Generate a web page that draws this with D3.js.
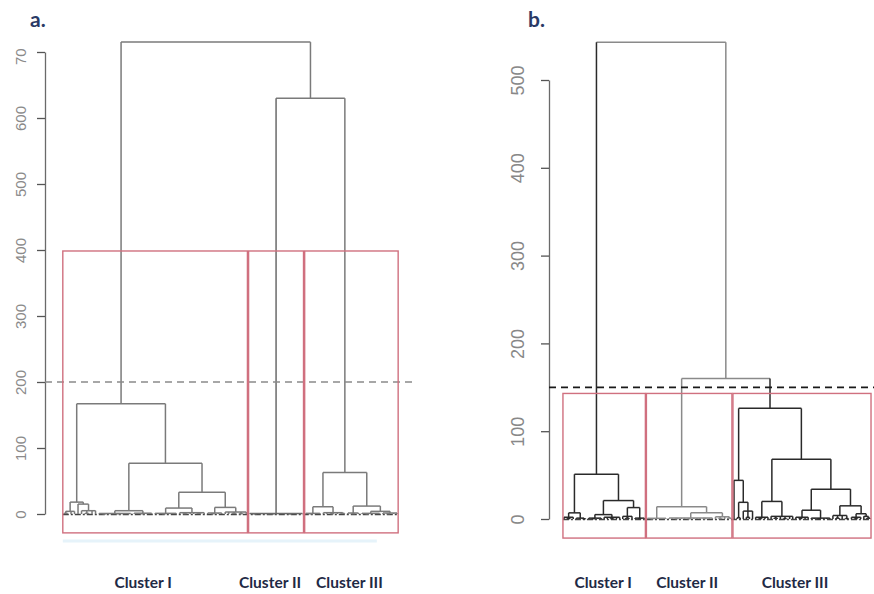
<!DOCTYPE html>
<html><head><meta charset="utf-8">
<script src="https://cdn.jsdelivr.net/npm/d3@7"></script>
<style>body{margin:0;background:#fff}</style>
</head><body>
<svg id="c" width="874" height="594"></svg>
<script>
// ---------------- DATA ----------------
const panelLabels = ["a.", "b."];
const clusterNames = ["Cluster I", "Cluster II", "Cluster III"];
const ticksA = [0, 100, 200, 300, 400, 500, 600, 700];
const ticksB = [0, 100, 200, 300, 400, 500];
const cutLineA = 200;
const cutLineB = 150;
const kClusters = 3;

// Dendrogram nodes: [mergeHeight, child, child, ...]; 0 = a single leaf
// ---- panel a ----
const a_B1  = [4, [1, 0, 0], 0, 0];
const a_B2  = [15, 0, [5, 0, [1, 0, 0], 0, 0]];
const a_C1  = [5, [0.8, 0, [0.3, 0, 0], 0, 0, [0.5, 0, 0], 0, 0, 0], [1.2, 0, 0, [0.4, 0, 0], 0, 0]];
const a_C2a = [9, [1, 0, 0, [0.4, 0, 0], 0, 0, 0], [2, 0, [0.6, 0, 0], 0, 0, [1, 0, 0], 0]];
const a_C2b = [10, [1.5, 0, [0.5, 0, 0], 0, 0], [3, 0, 0, [1, 0, 0], [0.5, 0, 0], 0]];
const a_D   = [0.6, 0, [0.2, 0, 0], 0, 0, [0.3, 0, 0, 0], 0, 0, 0, [0.2, 0, 0], 0, 0, 0];
const a_F1  = [11, [1, 0, [0.4, 0, 0], 0, 0], [2, 0, 0, [0.5, 0, 0], 0, [1, 0, 0]]];
const a_F2  = [12, [1.5, 0, [0.5, 0, 0], 0], [4, [1, 0, [0.3, 0, 0], 0, 0, 0], [1.5, 0, [0.5, 0, 0], 0, 0]]];
const treeA = [715,
  [167, [18, a_B1, a_B2], [77, a_C1, [33, a_C2a, a_C2b]]],
  [630, a_D, [63, a_F1, a_F2]]
];
// ---- panel b ----
const b_IL   = [7, [2, 0, [0.5, 0, 0], 0], [1, 0, 0, [0.3, 0, 0]]];
const b_IRa  = [5, [1, 0, [0.4, 0, 0], 0, 0], [2, 0, 0, [0.5, 0, 0], 0, 0]];
const b_IRb  = [13, [3, 0, [1, 0, 0], 0], [1, 0, [0.4, 0, 0], 0]];
const b_IIL  = [0.8, 0, [0.3, 0, 0], 0, 0, 0, 0];
const b_IIR  = [7, [1.2, 0, 0, [0.4, 0, 0], 0, 0, [0.3, 0, 0], 0, 0, 0, [0.5, 0, 0], 0, 0], [2.5, 0, [0.6, 0, 0], 0, [1, 0, 0]]];
const b_H1   = [44, 0, [19, [1.5, 0, 0], [9, 0, [2, 0, 0], 0]]];
const b_H2a  = [20, [2, 0, [0.5, 0, 0], 0, 0], [3, 0, [1, 0, 0], 0, [0.4, 0, 0], 0, 0]];
const b_H2b1 = [10, [2, 0, [0.6, 0, 0], 0, 0], [1, 0, 0, [0.3, 0, 0], 0, 0, 0]];
const b_H2b2 = [15, [4, 0, [1, 0, 0], 0, [0.5, 0, 0]], [6, [2, 0, [0.5, 0, 0], 0], [3, 0, [1, 0, 0]]]];
const treeB = [543,
  [51, b_IL, [21, b_IRa, b_IRb]],
  [160, [14, b_IIL, b_IIR], [126, b_H1, [68, b_H2a, [34, b_H2b1, b_H2b2]]]]
];

// ---------------- LAYOUT HELPERS ----------------
function layout(node, st) {
  if (node === 0) { st.i++; return {leaf: true, x: st.i, h: 0, lo: st.i, hi: st.i}; }
  const kids = node.slice(1).map(c => layout(c, st));
  return {leaf: false, h: node[0], kids,
          x: (kids[0].x + kids[kids.length - 1].x) / 2,
          lo: kids[0].lo, hi: kids[kids.length - 1].hi};
}
function heights(n, out) { if (!n.leaf) { out.push(n.h); n.kids.forEach(k => heights(k, out)); } return out; }
function cut(n, t, out) { if (n.h < t) out.push(n); else n.kids.forEach(k => cut(k, t, out)); return out; }

const svg = d3.select("#c");
const defs = svg.append("defs");
defs.append("clipPath").attr("id", "clipTop").append("rect")
  .attr("x", -80).attr("y", 49).attr("width", 200).attr("height", 560);

function drawPanel(cfg) {
  const root = layout(cfg.tree, {i: 0});
  const nLeaves = root.hi;
  const hs = heights(root, []).sort((p, q) => q - p);
  const boxTop = (hs[kClusters - 2] + hs[kClusters - 1]) / 2;
  const clusters = cut(root, boxTop, []);
  const x = d3.scaleLinear().domain([1, nLeaves]).range(cfg.xRange);
  const y = d3.scaleLinear().domain([0, cfg.ticks[cfg.ticks.length - 1]]).range(cfg.yRange);
  const usrBottom = -0.04 * hs[0];
  const g = svg.append("g");

  // axis
  const ax = g.append("g").attr("transform", `translate(${cfg.axisX},0)`)
    .call(d3.axisLeft(y).tickValues(cfg.ticks).tickSize(8).tickSizeOuter(0).tickFormat(d3.format("d")));
  if (cfg.clipAxis) ax.attr("clip-path", "url(#clipTop)");
  ax.select(".domain").attr("stroke", "#6a6a6a").attr("stroke-width", 1.3);
  ax.selectAll(".tick line").attr("stroke", "#555").attr("stroke-width", 1.3);
  ax.selectAll(".tick text")
    .attr("x", null).attr("dy", null)
    .attr("transform", `translate(${cfg.labelOff},0) rotate(-90)`)
    .attr("text-anchor", "middle").attr("dominant-baseline", "central")
    .attr("fill", cfg.tickColor).attr("font-size", cfg.tickFont)
    .attr("font-family", "Liberation Sans, Arial, sans-serif");

  // faint band under boxes (panel a)
  if (cfg.band) {
    g.append("line").attr("x1", x(0.66)).attr("x2", x(nLeaves * 0.94))
      .attr("y1", y(usrBottom) + 8).attr("y2", y(usrBottom) + 8)
      .attr("stroke", "#e6f3fa").attr("stroke-width", 3);
  }

  // baseline dash-dot (leaf tips)
  g.append("line").attr("x1", x(0.66)).attr("x2", x(nLeaves + 0.33))
    .attr("y1", y(0) + 0.5).attr("y2", y(0) + 0.5)
    .attr("stroke", "#444").attr("stroke-width", 1.3).attr("stroke-dasharray", "6,2,2,2");

  // colour per node
  const colorOf = n => {
    const ci = clusters.findIndex(c => n.lo >= c.lo && n.hi <= c.hi);
    return ci < 0 ? cfg.topColor : cfg.clusterColors[ci];
  };
  const edges = g.append("g").attr("fill", "none").attr("stroke-width", cfg.lw);
  (function draw(n, parent) {
    const col = colorOf(n);
    if (parent) {
      edges.append("line").attr("x1", x(n.x)).attr("x2", x(n.x))
        .attr("y1", y(n.h)).attr("y2", y(parent.h)).attr("stroke", col);
    }
    if (!n.leaf) {
      edges.append("line").attr("x1", x(n.kids[0].x)).attr("x2", x(n.kids[n.kids.length - 1].x))
        .attr("y1", y(n.h)).attr("y2", y(n.h)).attr("stroke", col);
      n.kids.forEach(k => draw(k, n));
    }
  })(root, null);

  // cut line
  g.append("line").attr("x1", cfg.axisX).attr("x2", cfg.cutX2)
    .attr("y1", y(cfg.cut)).attr("y2", y(cfg.cut))
    .attr("stroke", cfg.cutColor).attr("stroke-width", cfg.cutW).attr("stroke-dasharray", "7,5");

  // rect.hclust boxes
  g.append("g").selectAll("rect").data(clusters).join("rect")
    .attr("x", c => x(c.lo - 0.34)).attr("y", y(boxTop))
    .attr("width", c => x(c.hi + 0.33) - x(c.lo - 0.34))
    .attr("height", y(usrBottom) - y(boxTop))
    .attr("fill", "none").attr("stroke", "#d0707f").attr("stroke-width", 1.4);

  // cluster names
  g.append("g").selectAll("text").data(clusters).join("text")
    .attr("x", (c, i) => (x(c.lo - 0.34) + x(c.hi + 0.33)) / 2 + cfg.nameNudge[i])
    .attr("y", 588).attr("text-anchor", "middle")
    .attr("font-family", "Lato, 'Open Sans', sans-serif").attr("font-weight", "bold")
    .attr("font-size", 15.5).attr("fill", "#1f2a45")
    .text((c, i) => clusterNames[i]);

  // panel letter
  g.append("text").attr("x", cfg.letterX).attr("y", 27)
    .attr("font-family", "Lato, 'Open Sans', sans-serif").attr("font-weight", "bold")
    .attr("font-size", 21).attr("fill", "#2a3a66").text(cfg.letter);
}

drawPanel({tree: treeA, ticks: ticksA, cut: cutLineA, xRange: [64, 397], yRange: [514, 52],
  axisX: 45, labelOff: -25, tickFont: 15, tickColor: "#8a8a8a", clipAxis: true, band: true,
  topColor: "#7a7a7a", clusterColors: ["#7a7a7a", "#6a6a6a", "#7a7a7a"], lw: 1.5,
  cutX2: 413, cutColor: "#8a8a8a", cutW: 1.4, nameNudge: [-12, -6, -2],
  letter: panelLabels[0], letterX: 30});

drawPanel({tree: treeB, ticks: ticksB, cut: cutLineB, xRange: [564, 870], yRange: [519, 80],
  axisX: 549, labelOff: -31, tickFont: 18, tickColor: "#888", clipAxis: false, band: false,
  topColor: "#8a8a8a", clusterColors: ["#2a2a2a", "#8a8a8a", "#2a2a2a"], lw: 1.5,
  cutX2: 874, cutColor: "#1a1a1a", cutW: 1.8, nameNudge: [-1, -2, -7],
  letter: panelLabels[1], letterX: 528});
</script>
</body></html>
